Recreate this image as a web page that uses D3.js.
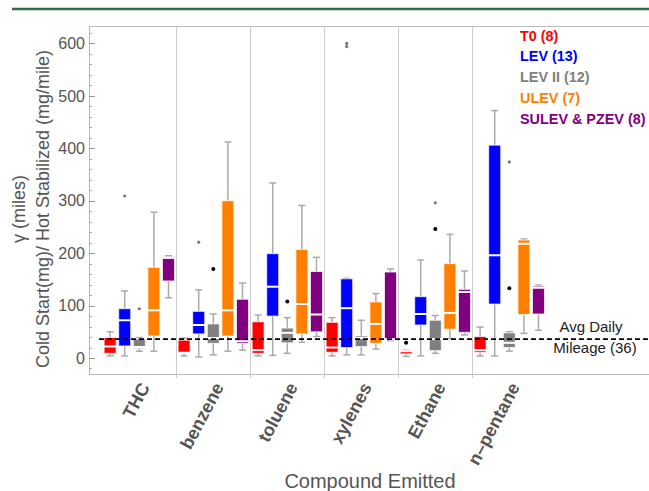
<!DOCTYPE html>
<html>
<head>
<meta charset="utf-8">
<script src="https://cdn.jsdelivr.net/npm/d3@7"></script>
<style>
  body { margin: 0; background: #fff; }
  svg { display: block; font-family: Arial, 'Liberation Sans', sans-serif; }
  .frame { fill: none; stroke: #bbb; stroke-width: 1; }
  .sep { stroke: #ccc; stroke-width: 1; }
  .whisker { stroke: #aaa; stroke-width: 1.5; }
  .tick-label { fill: #555; font-size: 16px; }
  .cat-label { fill: #555; font-size: 18px; font-weight: bold; }
  .axis-title { fill: #555; font-size: 18px; }
  .legend { font-size: 14.4px; font-weight: bold; }
</style>
</head>
<body>
<svg id="chart"></svg>
<script>
const categories = ['THC', 'benzene', 'toluene', 'xylenes', 'Ethane', 'n\u2013pentane']
const groups = ['T0 (8)', 'LEV (13)', 'LEV II (12)', 'ULEV (7)', 'SULEV & PZEV (8)']
const colors = ['#ff0000', '#0000ff', '#808080', '#ff8000', '#800080']

// [min, q1, median, q3, max] per compound
const t0 = [
  [4, 9, 22, 39, 50], [4, 9, 10, 34, 38], [4, 9, 15, 69, 82],
  [4, 11, 20, 68, 77], [3, 8, 13, 15, 15], [4, 11, 15, 41, 59]
]
const lev = [
  [4, 23, 72, 94, 128], [2, 46, 63, 89, 130], [5, 80, 136, 199, 334],
  [6, 20, 95, 151, 152], [4, 63, 84, 117, 187], [4, 103, 196, 406, 472]
]
const levII = [
  [13, 18, 21, 36, 39], [6, 28, 38, 65, 84], [9, 29, 48, 57, 77],
  [6, 22, 38, 42, 72], [9, 14, 36, 72, 81], [13, 20, 29, 48, 50]
]
const ulev = [
  [13, 42, 91, 173, 278], [13, 42, 91, 300, 412], [30, 46, 103, 207, 291],
  [17, 28, 65, 107, 123], [37, 55, 86, 180, 236], [47, 83, 218, 225, 227]
]
const sulev = [
  [115, 147, 191, 193, 195], [15, 28, 32, 112, 143], [41, 50, 83, 165, 192],
  [33, 34, 36, 164, 170], [44, 49, 126, 131, 166], [53, 84, 134, 137, 139]
]
const series = [t0, lev, levII, ulev, sulev]

// [compound index, group index, value, far outlier]
const outliers = [
  [0, 1, 309, false], [0, 2, 94, false],
  [1, 1, 221, false], [1, 2, 170, true],
  [2, 2, 108, true],
  [3, 1, 594, false], [3, 1, 600, false],
  [4, 0, 29, true], [4, 2, 296, false], [4, 2, 246, true],
  [5, 2, 374, false], [5, 2, 133, true]
]

const yTicks = [0, 100, 200, 300, 400, 500, 600]
const avgDaily = 36

const W = 649
const H = 491
const plot = { left: 89, right: 654, top: 26, bottom: 374 }

const svg = d3.select('#chart')
  .attr('width', W)
  .attr('height', H)

const y = d3.scaleLinear()
  .domain([-30.5, 633.3])
  .range([plot.bottom, plot.top])

const x = d3.scaleBand()
  .domain(categories)
  .range([102.3, 546.3])

const xi = d3.scaleBand()
  .domain(groups)
  .range([0, x.bandwidth()])
  .paddingInner(0.18)
  .paddingOuter(0.125)

// green rule at the top
svg.append('line')
  .attr('x1', 12).attr('x2', W)
  .attr('y1', 9).attr('y2', 9)
  .style('stroke', '#2e6b45')
  .style('stroke-width', 2.5)

svg.append('rect')
  .attr('class', 'frame')
  .attr('x', plot.left + 0.5)
  .attr('y', plot.top + 0.5)
  .attr('width', plot.right - plot.left)
  .attr('height', plot.bottom - plot.top)

// separators between compounds
svg.append('g')
  .selectAll('line')
  .data(categories.slice(1))
  .join('line')
  .attr('class', 'sep')
  .attr('x1', d => Math.round(x(d)) + 0.5)
  .attr('x2', d => Math.round(x(d)) + 0.5)
  .attr('y1', plot.top)
  .attr('y2', plot.bottom + 4)

// y ticks, major and minor, pointing inwards
const minor = d3.range(-20, 621, 20).filter(v => v % 100 !== 0)
svg.append('g')
  .selectAll('line')
  .data(minor)
  .join('line')
  .attr('x1', plot.left).attr('x2', plot.left + 3)
  .attr('y1', d => Math.round(y(d)) + 0.5)
  .attr('y2', d => Math.round(y(d)) + 0.5)
  .style('stroke', '#aaa')

svg.append('g')
  .selectAll('line')
  .data(yTicks)
  .join('line')
  .attr('x1', plot.left).attr('x2', plot.left + 6)
  .attr('y1', d => Math.round(y(d)) + 0.5)
  .attr('y2', d => Math.round(y(d)) + 0.5)
  .style('stroke', '#999')

svg.append('g')
  .selectAll('text')
  .data(yTicks)
  .join('text')
  .attr('class', 'tick-label')
  .attr('x', plot.left - 4)
  .attr('y', d => y(d))
  .attr('dy', '0.36em')
  .attr('text-anchor', 'end')
  .text(d => d)

// boxes
const boxes = []
series.forEach((s, gi) => s.forEach((d, ci) => boxes.push({ ci, gi, d })))

const bx = b => x(categories[b.ci]) + xi(groups[b.gi])
const bw = xi.bandwidth()

const g = svg.append('g')

g.selectAll('line.whisker')
  .data(boxes)
  .join('line')
  .attr('class', 'whisker')
  .attr('x1', b => bx(b) + bw / 2)
  .attr('x2', b => bx(b) + bw / 2)
  .attr('y1', b => y(b.d[0]))
  .attr('y2', b => y(b.d[4]))

const caps = boxes.flatMap(b => [{ b, v: b.d[0] }, { b, v: b.d[4] }])
g.selectAll('line.cap')
  .data(caps)
  .join('line')
  .attr('class', 'whisker cap')
  .attr('x1', c => bx(c.b) + bw / 2 - 3.5)
  .attr('x2', c => bx(c.b) + bw / 2 + 3.5)
  .attr('y1', c => y(c.v))
  .attr('y2', c => y(c.v))

g.selectAll('rect.box')
  .data(boxes)
  .join('rect')
  .attr('class', 'box')
  .attr('x', b => bx(b))
  .attr('width', bw)
  .attr('y', b => y(b.d[3]))
  .attr('height', b => Math.max(1, y(b.d[1]) - y(b.d[3])))
  .style('fill', b => colors[b.gi])
  .style('stroke', '#fff')
  .style('stroke-opacity', 0.7)
  .style('stroke-width', 1)

g.selectAll('line.median')
  .data(boxes)
  .join('line')
  .attr('class', 'median')
  .attr('x1', b => bx(b))
  .attr('x2', b => bx(b) + bw)
  .attr('y1', b => y(b.d[2]))
  .attr('y2', b => y(b.d[2]))
  .style('stroke', '#fff')
  .style('stroke-width', 2)

g.selectAll('circle')
  .data(outliers)
  .join('circle')
  .attr('cx', o => x(categories[o[0]]) + xi(groups[o[1]]) + bw / 2)
  .attr('cy', o => y(o[2]))
  .attr('r', o => o[3] ? 2 : 1.6)
  .style('fill', o => o[3] ? '#000' : '#777')

// average daily mileage
svg.append('line')
  .attr('x1', 99).attr('x2', W)
  .attr('y1', y(avgDaily)).attr('y2', y(avgDaily))
  .style('stroke', '#000')
  .style('stroke-width', 1.8)
  .style('stroke-dasharray', '5,3')

svg.append('text')
  .attr('x', 591).attr('y', y(avgDaily) - 7)
  .attr('text-anchor', 'middle')
  .style('font-size', '15px')
  .style('fill', '#222')
  .text('Avg Daily')

svg.append('text')
  .attr('x', 595).attr('y', y(avgDaily) + 14)
  .attr('text-anchor', 'middle')
  .style('font-size', '15px')
  .style('fill', '#222')
  .text(`Mileage (${avgDaily})`)

// compound labels
svg.append('g')
  .selectAll('text')
  .data(categories)
  .join('text')
  .attr('class', 'cat-label')
  .attr('text-anchor', 'end')
  .attr('transform', d => `translate(${x(d) + x.bandwidth() / 2 + 11}, 387) rotate(-62)`)
  .text(d => d)

svg.append('text')
  .attr('class', 'axis-title')
  .attr('x', 370).attr('y', 488)
  .attr('text-anchor', 'middle')
  .style('font-size', '20px')
  .text('Compound Emitted')

// y axis title, two lines
const yTitle = svg.append('text')
  .attr('class', 'axis-title')
  .attr('text-anchor', 'middle')
  .attr('transform', 'translate(49, 209) rotate(-90)')

yTitle.append('tspan')
  .attr('x', 0).attr('dy', 0)
  .text('Cold Start(mg)/ Hot Stabilized (mg/mile)')

yTitle.append('tspan')
  .attr('x', 0).attr('dy', '-1.35em')
  .text('\u03b3 (miles)')

// legend
svg.append('g')
  .selectAll('text')
  .data(groups)
  .join('text')
  .attr('class', 'legend')
  .attr('x', 520)
  .attr('y', (d, i) => 40.7 + i * 20.7)
  .style('fill', (d, i) => colors[i])
  .text(d => d)
</script>
</body>
</html>
